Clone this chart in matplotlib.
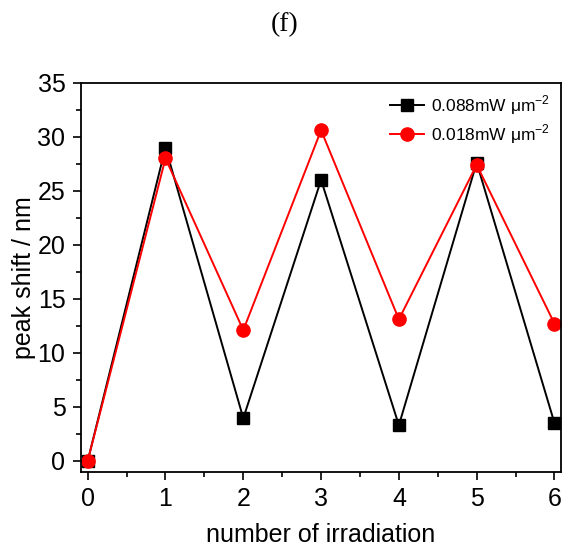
import matplotlib
matplotlib.use('Agg')
from matplotlib import pyplot as plt
from matplotlib.ticker import MultipleLocator

plt.rcParams['font.family'] = ['Liberation Sans', 'DejaVu Sans']
plt.rcParams['mathtext.fontset'] = 'custom'
plt.rcParams['mathtext.rm'] = 'Liberation Sans'

# data
irradiation = [0, 1, 2, 3, 4, 5, 6]
shift_high = [0, 29.0, 3.95, 26.0, 3.3, 27.6, 3.5]
shift_low = [0, 28.0, 12.1, 30.6, 13.1, 27.4, 12.7]
label_high = '0.088mW $\\mathrm{\\mu}$m$^{-2}$'
label_low = '0.018mW $\\mathrm{\\mu}$m$^{-2}$'

fig = plt.figure(figsize=(5.67, 5.5), dpi=100)
ax = fig.add_axes([80.7 / 567, 1 - 471.7 / 550, 480 / 567, 389 / 550])

ax.plot(irradiation, shift_high, 'k-', marker='s', markersize=8.5, lw=1.4, label=label_high)
ax.plot(irradiation, shift_low, '-', color='red', marker='o', markersize=9.5, lw=1.4, label=label_low)

ax.set_xlim(-0.09, 6.08)
ax.set_ylim(-1, 35)
ax.xaxis.set_major_locator(MultipleLocator(1))
ax.xaxis.set_minor_locator(MultipleLocator(0.5))
ax.yaxis.set_major_locator(MultipleLocator(5))
ax.yaxis.set_minor_locator(MultipleLocator(2.5))
ax.tick_params(which='both', direction='out', top=False, right=False, labelsize=18, width=1.2)
ax.tick_params(which='major', length=6, pad=5)
ax.tick_params(which='minor', length=3.5)
for s in ax.spines.values():
    s.set_linewidth(1.3)

ax.set_xlabel('number of irradiation', fontsize=18, labelpad=9)
ax.set_ylabel('peak shift / nm', fontsize=18, labelpad=1)

ax.legend(loc='upper right', frameon=False, fontsize=12.5, handlelength=2.0,
          handletextpad=0.4, borderaxespad=0.2, labelspacing=0.3)

fig.text(285 / 567, 1 - 25 / 550, '(f)', ha='center', va='center', fontsize=20,
         family='Liberation Serif')

fig.savefig('out.png', dpi=100)
